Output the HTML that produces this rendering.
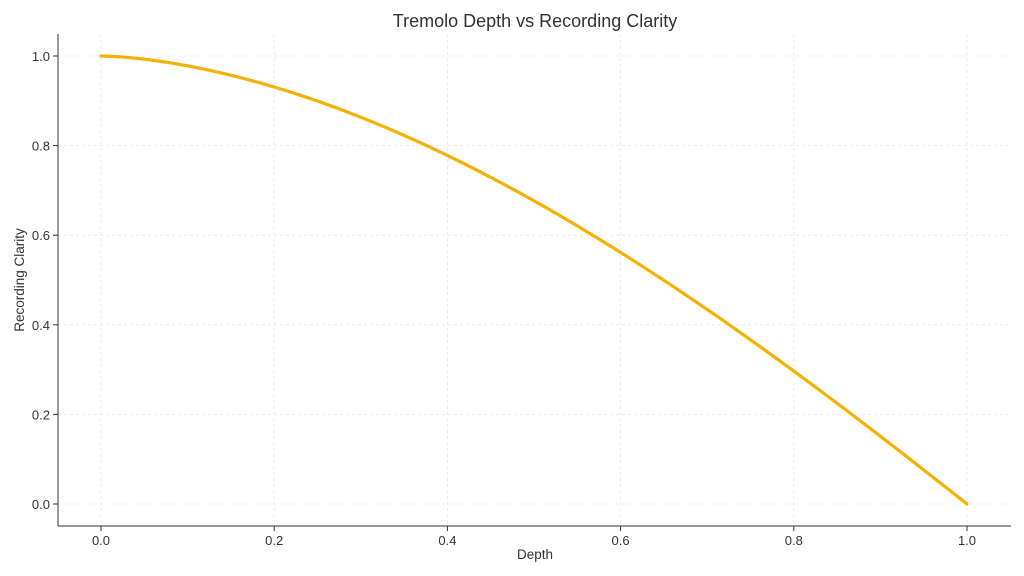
<!DOCTYPE html>
<html><head><meta charset="utf-8"><style>
body{margin:0;background:#fff;}
svg{display:block;font-family:"Liberation Sans","DejaVu Sans",sans-serif;}
</style></head><body>
<svg id="s" width="1024" height="576" viewBox="0 0 1024 576">
<rect width="1024" height="576" fill="#fff"/>
<g id="grid" stroke="#e6e6e6" stroke-width="0.8" stroke-dasharray="3,3"></g>
<line x1="58" y1="34" x2="58" y2="526" stroke="#333" stroke-width="1"/>
<line x1="58" y1="526" x2="1011" y2="526" stroke="#333" stroke-width="1"/>
<g id="ticks" fill="#333" font-size="13"></g>
<path id="curve" fill="none" stroke="#f5b000" stroke-width="3.2" stroke-linecap="round"/>
<text x="535" y="27" text-anchor="middle" font-size="18" fill="#333">Tremolo Depth vs Recording Clarity</text>
<text x="535" y="559" text-anchor="middle" font-size="13.5" fill="#333">Depth</text>
<text transform="translate(24,280) rotate(-90)" text-anchor="middle" font-size="13.5" fill="#333">Recording Clarity</text>
</svg>
<script>
var ns="http://www.w3.org/2000/svg";
function X(v){return 101+v*866;}function Y(v){return 504-v*448;}
var g=document.getElementById('grid'),t=document.getElementById('ticks');
for(var i=0;i<=5;i++){var v=i/5;
 var l=document.createElementNS(ns,'line');l.setAttribute('x1',X(v));l.setAttribute('x2',X(v));l.setAttribute('y1',34);l.setAttribute('y2',526);g.appendChild(l);
 l=document.createElementNS(ns,'line');l.setAttribute('y1',Y(v));l.setAttribute('y2',Y(v));l.setAttribute('x1',58);l.setAttribute('x2',1011);g.appendChild(l);
 var k=document.createElementNS(ns,'line');k.setAttribute('x1',X(v));k.setAttribute('x2',X(v));k.setAttribute('y1',526);k.setAttribute('y2',531);k.setAttribute('stroke','#333');t.appendChild(k);
 k=document.createElementNS(ns,'line');k.setAttribute('x1',53);k.setAttribute('x2',58);k.setAttribute('y1',Y(v));k.setAttribute('y2',Y(v));k.setAttribute('stroke','#333');t.appendChild(k);
 var tx=document.createElementNS(ns,'text');tx.setAttribute('x',X(v));tx.setAttribute('y',545);tx.setAttribute('text-anchor','middle');tx.textContent=v.toFixed(1);t.appendChild(tx);
 tx=document.createElementNS(ns,'text');tx.setAttribute('x',50);tx.setAttribute('y',Y(v)+5);tx.setAttribute('text-anchor','end');tx.textContent=v.toFixed(1);t.appendChild(tx);
}
var d='';for(var i=0;i<=200;i++){var x=i/200;var y=0.5*Math.cos(Math.PI*x/2)+0.5*(1-Math.pow(x,1.5));d+=(i?'L':'M')+X(x).toFixed(2)+','+Y(y).toFixed(2);}
document.getElementById('curve').setAttribute('d',d);
</script>
</body></html>
